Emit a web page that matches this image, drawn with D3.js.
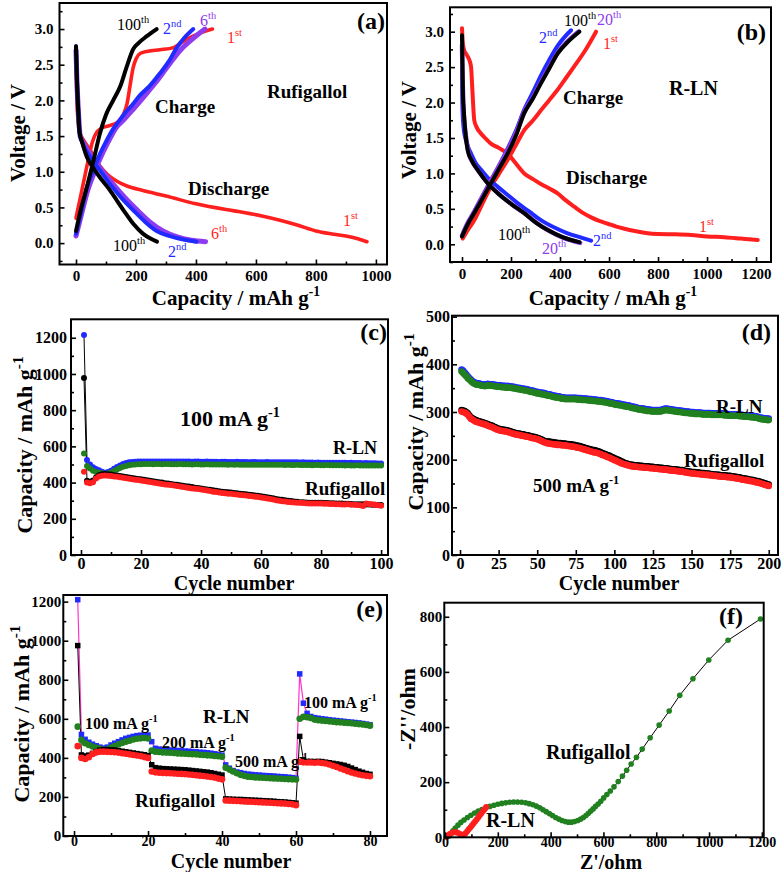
<!DOCTYPE html>
<html>
<head>
<meta charset="utf-8">
<script src="https://cdn.jsdelivr.net/npm/d3@7"></script>
<style>
  body { margin: 0; background: #fff; }
  svg text { font-family: "Liberation Serif", "Times New Roman", serif; }
</style>
</head>
<body>
<div id="chart"></div>
<script>
/* ---------- DATA ---------- */
// (a) Rufigallol voltage profiles  [capacity mAh/g, voltage V]
const aRedDis = [[0,2.45],[3,2.0],[7,1.7],[12,1.55],[20,1.48],[35,1.38],[55,1.25],[80,1.08],[105,0.96],[135,0.87],[170,0.8],[220,0.74],[300,0.66],[400,0.55],[500,0.47],[560,0.43],[620,0.38],[680,0.32],[740,0.25],[800,0.17],[850,0.13],[900,0.1],[940,0.06],[970,0.02]];
const aRedCh = [[0,0.35],[10,0.55],[25,0.85],[40,1.15],[55,1.42],[70,1.56],[90,1.62],[115,1.65],[140,1.7],[158,1.8],[170,1.95],[180,2.2],[190,2.45],[200,2.58],[215,2.66],[240,2.69],[280,2.71],[325,2.74],[355,2.82],[390,2.9],[425,2.96],[455,3.0]];
const aBlueDis = [[0,2.76],[3,2.3],[7,1.9],[12,1.55],[20,1.42],[47,1.21],[80,1.02],[113,0.83],[150,0.64],[191,0.46],[230,0.3],[269,0.17],[310,0.1],[358,0.05],[402,0.02]];
const aBlueCh = [[0,0.13],[15,0.4],[36,0.78],[58,1.02],[80,1.25],[100,1.42],[124,1.6],[145,1.72],[169,1.85],[190,1.95],[213,2.07],[245,2.2],[280,2.38],[310,2.55],[336,2.74],[360,2.87],[391,3.0]];
const aPurpDis = [[0,2.7],[3,2.3],[8,1.85],[14,1.5],[25,1.4],[55,1.2],[90,1.0],[125,0.82],[165,0.63],[205,0.46],[245,0.3],[290,0.17],[335,0.09],[385,0.04],[432,0.02]];
const aPurpCh = [[0,0.1],[18,0.4],[40,0.75],[65,1.03],[91,1.28],[115,1.48],[136,1.63],[160,1.73],[185,1.85],[210,1.97],[240,2.12],[275,2.3],[310,2.5],[347,2.7],[380,2.83],[405,2.92],[430,3.0]];
const aBlackDis = [[0,2.76],[3,2.3],[7,1.9],[12,1.55],[20,1.42],[36,1.21],[55,1.07],[80,0.92],[110,0.76],[136,0.6],[165,0.42],[191,0.27],[224,0.13],[250,0.06],[270,0.02]];
const aBlackCh = [[0,0.17],[15,0.45],[36,0.78],[58,1.15],[80,1.54],[100,1.8],[124,2.0],[147,2.19],[169,2.47],[191,2.72],[210,2.81],[236,2.9],[269,3.0]];

// (b) R-LN voltage profiles
const bRedDis = [[0,3.05],[3,2.85],[8,2.75],[18,2.68],[30,2.6],[37,2.5],[42,2.2],[50,1.75],[60,1.65],[78,1.56],[100,1.48],[118,1.42],[150,1.36],[186,1.28],[220,1.14],[254,1.0],[290,0.92],[322,0.85],[360,0.78],[390,0.72],[420,0.63],[458,0.53],[490,0.45],[527,0.38],[560,0.33],[595,0.29],[630,0.25],[663,0.22],[700,0.19],[750,0.16],[800,0.145],[870,0.14],[935,0.13],[1000,0.11],[1071,0.1],[1140,0.08],[1207,0.06]];
const bRedCh = [[3,0.08],[20,0.18],[50,0.34],[80,0.55],[118,0.81],[150,0.99],[186,1.19],[220,1.4],[254,1.61],[290,1.75],[322,1.89],[355,2.03],[390,2.18],[425,2.35],[458,2.51],[500,2.72],[547,3.0]];
const bBlueDis = [[0,2.5],[1,2.1],[2,1.9],[8,1.6],[16,1.47],[25,1.37],[37,1.28],[55,1.15],[78,1.05],[110,0.92],[146,0.81],[185,0.7],[227,0.58],[275,0.46],[322,0.34],[375,0.24],[431,0.155],[480,0.1],[527,0.05]];
const bBlueCh = [[0,0.12],[20,0.27],[50,0.46],[84,0.68],[118,0.9],[150,1.1],[186,1.35],[220,1.6],[254,1.9],[290,2.15],[322,2.38],[356,2.6],[390,2.8],[420,2.93],[445,3.02]];
const bPurpDis = [[0,2.8],[2,2.4],[5,2.0],[9,1.75],[15,1.55],[27,1.3],[45,1.15],[70,1.02],[105,0.87],[150,0.71],[205,0.56],[258,0.43],[305,0.3],[355,0.19],[415,0.09],[482,0.02]];
const bPurpCh = [[0,0.12],[20,0.28],[50,0.46],[84,0.68],[118,0.9],[150,1.1],[186,1.33],[220,1.57],[254,1.87],[290,2.08],[322,2.29],[356,2.5],[390,2.7],[430,2.86],[475,3.0]];
const bBlackDis = [[0,2.95],[2,2.5],[4,2.1],[7,1.9],[12,1.65],[23,1.33],[40,1.18],[64,1.05],[100,0.88],[146,0.72],[200,0.57],[254,0.44],[300,0.31],[350,0.2],[410,0.1],[479,0.03]];
const bBlackCh = [[0,0.11],[20,0.26],[50,0.44],[84,0.65],[118,0.86],[150,1.06],[186,1.28],[220,1.53],[254,1.85],[290,2.06],[322,2.27],[356,2.48],[390,2.69],[430,2.85],[479,3.0]];

// (c) cycling at 100 mA/g, cycles 1..100
const cRlnDis = [1215,525,500,485,475,468,460,455,458,466, 476,486,495,502,508,512,514,515,516,516, 516,517,517,516,517,517,516,517,517,517, 516,516,517,516,516,516,515,516,516,515, 515,516,515,515,515,514,515,515,514,514, 514,515,514,514,514,513,514,514,513,513, 513,514,513,513,512,513,513,512,512,512, 512,512,511,512,511,511,511,510,511,510, 510,510,510,509,510,509,509,509,508,509, 508,508,508,507,508,507,507,507,506,506];
const cRlnCh = [560,492,478,465,458,455,452,448,450,456, 464,472,480,487,492,496,498,500,501,501, 502,502,502,501,502,502,501,502,502,501, 501,501,502,501,501,501,500,501,501,500, 500,501,500,500,500,500,500,500,499,500, 499,500,499,499,499,499,499,499,498,499, 498,499,498,498,498,498,498,497,498,497, 497,498,497,497,497,497,496,497,497,496, 496,497,496,496,496,496,496,495,496,495, 495,496,495,495,495,495,494,495,494,494];
const cRufDis = [978,410,405,412,428,440,446,447,446,444, 441,439,436,434,431,428,425,423,420,418, 415,413,410,407,405,402,400,397,395,392, 390,388,385,382,380,378,375,372,370,368, 365,362,360,357,355,352,350,348,346,345, 343,341,339,337,335,333,331,329,327,325, 322,319,316,313,310,307,305,302,300,298, 296,294,292,291,290,289,289,288,288,288, 287,287,286,286,285,284,284,283,283,282, 281,281,280,280,279,279,278,277,276,276];
const cRufCh = [460,400,396,402,422,434,438,439,438,436, 434,432,429,427,424,421,419,416,414,412, 409,406,403,400,398,395,392,390,388,386, 384,381,379,376,373,370,368,366,364,362, 359,356,353,350,348,345,343,341,339,338, 336,334,332,330,328,326,324,322,320,318, 315,312,309,306,303,300,297,295,293,291, 290,289,288,287,286,285,285,284,284,284, 283,283,282,282,281,280,279,279,280,278, 277,276,275,270,285,282,280,278,275,272];

// (d) cycling at 500 mA/g, cycles 1..200
const dRlnDis = [389,387,383,379,375,371,368,365,363,361, 360,360,359,358,358,357,358,359,358,358, 358,357,357,356,356,356,355,355,355,354, 355,354,354,353,353,352,351,351,350,349, 349,348,348,347,346,345,345,344,343,342, 342,341,340,340,339,338,337,337,336,335, 334,334,333,333,332,331,331,330,330,330, 330,330,330,330,330,329,329,329,328,328, 328,328,327,327,327,326,326,326,325,325, 325,324,324,323,323,322,321,321,320,319, 318,318,317,317,316,315,315,314,314,313, 312,311,311,310,309,308,308,307,307,306, 305,305,305,304,304,304,304,304,304,304, 305,306,307,307,306,306,305,305,304,304, 303,303,303,302,302,301,301,301,300,300, 300,299,299,299,299,299,298,298,298,298, 298,298,297,297,297,297,297,297,297,297, 296,296,296,295,295,295,295,295,295,295, 294,294,294,293,293,293,293,292,292,292, 291,291,290,289,288,288,287,287,286,286];
const dRlnCh = [385,382,378,375,371,368,365,362,360,358, 357,357,356,355,355,354,355,356,355,355, 355,354,354,353,353,353,352,352,352,351, 352,351,351,350,350,349,348,348,347,346, 346,345,345,344,343,342,342,341,340,339, 339,338,337,337,336,335,334,334,333,332, 331,331,330,330,329,328,328,327,327,327, 327,327,327,327,327,326,326,326,325,325, 325,325,324,324,324,323,323,323,322,322, 322,321,321,320,320,319,318,318,317,316, 315,315,314,314,313,312,312,311,311,310, 309,308,308,307,306,305,305,304,304,303, 302,302,302,301,301,301,301,301,301,301, 302,303,304,304,303,303,302,302,301,301, 300,300,300,299,299,298,298,298,297,297, 297,296,296,296,296,296,295,295,295,295, 295,295,294,294,294,294,294,294,294,294, 293,293,293,292,292,292,292,292,292,292, 291,291,291,290,290,290,290,289,289,289, 288,288,287,286,285,285,284,284,283,283];
const dRufDis = [304,303,302,300,297,293,289,287,285,283, 282,281,280,279,278,277,276,274,273,272, 271,269,268,266,265,264,263,263,262,262, 261,260,259,258,257,256,255,255,254,253, 253,252,251,251,250,249,248,248,247,246, 245,243,242,240,239,238,238,238,237,237, 236,236,235,235,235,234,234,234,233,233, 232,232,231,231,230,229,229,228,227,226, 225,224,223,222,221,220,220,219,218,217, 216,214,213,212,210,209,208,206,205,203, 202,200,199,197,196,194,193,192,191,190, 189,189,188,188,188,187,187,187,186,186, 186,186,185,185,185,184,184,184,183,183, 183,182,182,182,181,181,180,180,180,179, 179,178,178,178,177,176,176,175,175,174, 174,174,173,173,173,172,172,172,171,171, 171,170,170,169,169,169,168,168,167,167, 167,167,166,166,166,165,165,164,164,163, 163,162,161,161,160,160,159,158,158,157, 156,155,155,154,153,152,151,150,149,148];
const dRufCh = [301,300,299,297,294,290,286,284,282,280, 279,278,277,276,275,274,273,271,270,269, 268,266,265,263,262,261,260,260,259,259, 258,257,256,255,254,253,252,252,251,250, 250,249,248,248,247,246,245,245,244,243, 242,240,239,237,236,235,234,234,233,233, 232,232,231,231,231,230,230,230,229,229, 228,228,227,227,226,225,225,224,223,222, 221,220,219,218,217,216,215,215,214,213, 212,210,209,208,206,205,204,202,201,199, 198,196,195,193,192,191,190,189,188,187, 186,186,185,185,185,184,184,184,183,183, 183,183,182,182,182,181,181,181,180,180, 180,179,179,179,178,178,177,177,177,176, 176,175,175,175,174,173,173,172,172,171, 171,171,170,170,170,169,169,169,168,168, 168,167,167,166,166,166,165,165,164,164, 164,164,163,163,163,162,162,161,161,160, 160,159,158,158,157,157,156,155,155,154, 153,152,152,151,150,149,148,147,146,145];

// (e) rate test, cycles 1..80
const eRlnDis = [1210,520,495,480,470,462,455,450,455,466, 475,483,492,500,505,510,514,516,517,517, 483,449,445,443,442,440,439,438,436,435, 434,432,431,429,428,426,424,421,418,414, 364,347,335,328,324,320,317,315,313,312, 310,309,308,307,305,304,303,301,299,296, 830,680,628,612,606,603,600,598,595,593, 591,589,587,585,583,581,579,576,573,570];
const eRlnCh = [560,492,475,466,458,452,446,441,443,453, 461,469,476,483,488,494,498,500,502,499, 437,432,430,428,427,426,425,423,422,421, 420,419,418,416,415,413,412,410,408,406, 350,340,330,321,313,308,304,302,300,299, 298,297,296,295,294,293,292,291,290,289, 600,610,608,604,596,593,591,589,587,585, 583,582,580,579,577,575,573,571,568,565];
const eRufDis = [975,415,410,414,423,432,440,442,442,441, 440,437,434,431,428,425,422,419,416,412, 365,350,347,345,344,343,342,341,340,339, 337,335,333,331,329,327,324,320,316,312, 190,189,188,187,187,186,185,184,183,182, 181,180,179,178,176,175,174,172,170,168, 510,390,382,382,381,382,381,378,375,372, 369,366,362,356,348,340,332,326,320,316];
const eRufCh = [460,400,394,403,420,428,432,432,431,430, 429,427,424,421,418,415,412,409,404,400, 330,326,324,323,322,321,320,319,318,317, 315,313,311,309,307,305,302,299,294,290, 182,181,180,179,178,177,176,175,174,173, 172,171,170,169,168,167,166,164,162,158, 380,377,376,376,375,376,374,371,366,360, 353,346,339,332,325,320,315,311,308,306];

// (f) Nyquist plots [Z' ohm, -Z'' ohm]
const fRuf = [[16,5],[22,14],[30,24],[39,34],[49,44],[60,54],[72,63],[85,72],[98,80],[112,88],[126,95],[140,101],[155,107],[170,112],[185,116],[200,120],[215,123],[230,125],[245,127],[260,128],[275,128],[290,127],[305,125],[319,122],[333,118],[346,113],[359,107],[371,100],[383,93],[395,86],[407,79],[419,72],[431,66],[443,61],[455,57],[467,55],[479,55],[491,57],[503,61],[514,66],[524,72],[534,79],[543,87],[552,95],[561,103],[570,112],[580,121],[590,131],[601,143],[613,155],[626,168],[640,183],[656,202],[672,222],[688,243],[705,266],[725,290],[747,320],[777,361],[811,407],[849,458],[889,515],[939,575],[999,643],[1072,715],[1195,792]];
const fRln = [[6,1],[12,7],[18,12],[25,16],[32,18],[39,18],[46,17],[53,14],[60,10],[66,8],[72,10],[78,15],[84,22],[90,29],[96,36],[102,43],[108,50],[114,57],[120,65],[126,72],[132,80],[138,87],[144,95],[150,102],[156,110]];

// tick values
const vTicks = [0, 0.5, 1.0, 1.5, 2.0, 2.5, 3.0];
const vMinor = [-0.25, 0.25, 0.75, 1.25, 1.75, 2.25, 2.75, 3.25];
const aCapTicks = [0, 200, 400, 600, 800, 1000];
const bCapTicks = [0, 200, 400, 600, 800, 1000, 1200];
const capMinor = [100, 300, 500, 700, 900, 1100];
const cycTicks100 = [0, 20, 40, 60, 80, 100];
const cycMinor100 = [10, 30, 50, 70, 90];
const cycTicks200 = [0, 25, 50, 75, 100, 125, 150, 175, 200];
const cycTicks80 = [0, 20, 40, 60, 80];
const cycMinor80 = [10, 30, 50, 70];
const capTicks1200 = [0, 200, 400, 600, 800, 1000, 1200];
const capMinor1200 = [100, 300, 500, 700, 900, 1100];
const capTicks500 = [0, 100, 200, 300, 400, 500];
const capMinor500 = [50, 150, 250, 350, 450];
const zTicks = [0, 200, 400, 600, 800, 1000, 1200];
const zMinor = [100, 300, 500, 700, 900, 1100];
const zyTicks = [0, 200, 400, 600, 800];
const zyMinor = [100, 300, 500, 700];

/* ---------- SETUP ---------- */
const width = 782, height = 872;
const RED = "#ff1f1f", BLUE = "#1f2bff", PURP = "#8e3cf0", GREEN = "#21801f", BLACK = "#000";

const svg = d3.select("#chart").append("svg")
  .attr("width", width).attr("height", height)
  .style("background", "#fff");

function panel(box, xd, yd) {
  const x = d3.scaleLinear().domain(xd).range([box.l, box.r]);
  const y = d3.scaleLinear().domain(yd).range([box.b, box.t]);
  const g = svg.append("g");
  return { g, x, y, box };
}

function styleAxis(sel, fs) {
  sel.attr("font-family", "Liberation Serif, Times New Roman, serif")
    .attr("font-size", fs).attr("font-weight", "bold");
  sel.select(".domain").remove();
  sel.selectAll("line").attr("stroke", "#000").attr("stroke-width", 1.6);
  sel.selectAll("text").attr("fill", "#000");
}

function axes(p, o) {
  const { g, x, y, box } = p;
  g.append("g").attr("transform", `translate(0,${box.b})`)
    .call(d3.axisBottom(x).tickValues(o.xt).tickSize(-5).tickPadding(o.xp).tickFormat(d3.format("d")))
    .call(s => styleAxis(s, o.xfs || o.fs));
  if (o.xm) g.append("g").attr("transform", `translate(0,${box.b})`)
    .call(d3.axisBottom(x).tickValues(o.xm).tickSize(-3).tickFormat(""))
    .call(s => styleAxis(s, o.fs));
  g.append("g").attr("transform", `translate(${box.l},0)`)
    .call(d3.axisLeft(y).tickValues(o.yt).tickSize(-5).tickPadding(o.yp).tickFormat(o.yf || d3.format("d")))
    .call(s => styleAxis(s, o.fs));
  if (o.ym) g.append("g").attr("transform", `translate(${box.l},0)`)
    .call(d3.axisLeft(y).tickValues(o.ym).tickSize(-3).tickFormat(""))
    .call(s => styleAxis(s, o.fs));
  g.append("rect")
    .attr("x", box.l).attr("y", box.t)
    .attr("width", box.r - box.l).attr("height", box.b - box.t)
    .attr("fill", "none").attr("stroke", "#000").attr("stroke-width", 2);
}

// text with optional superscript
function note(x, y, main, sup, size, fill, weight, anchor) {
  const t = svg.append("text")
    .attr("x", x).attr("y", y)
    .attr("font-size", size)
    .attr("font-weight", weight || "bold")
    .attr("fill", fill || "#000")
    .attr("text-anchor", anchor || "start")
    .text(main);
  if (sup) t.append("tspan").attr("dy", -size * 0.42).attr("font-size", size * 0.65).text(sup);
  return t;
}

function ytitle(cx, cy, main, sup, size) {
  const t = svg.append("text")
    .attr("transform", `translate(${cx},${cy}) rotate(-90)`)
    .attr("text-anchor", "middle")
    .attr("font-size", size).attr("font-weight", "bold")
    .text(main);
  if (sup) t.append("tspan").attr("dy", -size * 0.42).attr("font-size", size * 0.7).text(sup);
}

function curve(p, data, color, w) {
  const line = d3.line().x(d => p.x(d[0])).y(d => p.y(d[1])).curve(d3.curveMonotoneX);
  p.g.append("path").attr("d", line(data))
    .attr("fill", "none").attr("stroke", color)
    .attr("stroke-width", w || 4).attr("stroke-linecap", "round").attr("stroke-linejoin", "round");
}

function seriesLine(p, vals, color, w) {
  const line = d3.line().x((d, i) => p.x(i + 1)).y(d => p.y(d));
  p.g.append("path").attr("d", line(vals))
    .attr("fill", "none").attr("stroke", color).attr("stroke-width", w || 1);
}

function dots(p, vals, color, r) {
  p.g.append("g").selectAll("circle").data(vals).join("circle")
    .attr("cx", (d, i) => p.x(i + 1)).attr("cy", d => p.y(d))
    .attr("r", r).attr("fill", color);
}

function squares(p, vals, color, s) {
  p.g.append("g").selectAll("rect").data(vals).join("rect")
    .attr("x", (d, i) => p.x(i + 1) - s / 2).attr("y", d => p.y(d) - s / 2)
    .attr("width", s).attr("height", s).attr("fill", color);
}

/* ---------- (a) ---------- */
const pa = panel({ l: 59.5, r: 387, t: 3, b: 264.5 }, [-55, 1037], [-0.3, 3.365]);
curve(pa, aRedDis, RED, 3.6);
curve(pa, aRedCh, RED, 3.6);
curve(pa, aPurpDis, PURP, 5);
curve(pa, aPurpCh, PURP, 5);
curve(pa, aBlueDis, BLUE, 4);
curve(pa, aBlueCh, BLUE, 4);
curve(pa, aBlackDis, BLACK, 4);
curve(pa, aBlackCh, BLACK, 4);
axes(pa, { xt: aCapTicks, xm: capMinor.slice(0, 5), yt: vTicks, ym: vMinor, xp: 6, yp: 6, fs: 15, yf: d3.format(".1f") });
note(117, 30, "100", "th", 16, BLACK, "normal");
note(163, 34, "2", "nd", 16, BLUE, "normal");
note(200, 26, "6", "th", 16, PURP, "normal");
note(227, 43, "1", "st", 16, RED, "normal");
note(155, 113, "Charge", null, 19);
note(267, 98, "Rufigallol", null, 19);
note(188, 195, "Discharge", null, 19);
note(343, 226, "1", "st", 16, RED, "normal");
note(211, 239, "6", "th", 16, RED, "normal");
note(168, 257, "2", "nd", 16, BLUE, "normal");
note(113, 251, "100", "th", 16, BLACK, "normal");
note(385, 29, "(a)", null, 24, BLACK, "bold", "end");
note(236, 305, "Capacity / mAh g", "-1", 21, BLACK, "bold", "middle");
ytitle(24.5, 133, "Voltage / V", null, 21);

/* ---------- (b) ---------- */
const pb = panel({ l: 450, r: 771, t: 7.3, b: 262 }, [-49, 1261], [-0.25, 3.344]);
curve(pb, bRedDis, RED, 4);
curve(pb, bRedCh, RED, 4);
curve(pb, bBlueDis, BLUE, 4);
curve(pb, bBlueCh, BLUE, 4);
curve(pb, bPurpDis, PURP, 4.5);
curve(pb, bPurpCh, PURP, 4.5);
curve(pb, bBlackDis, BLACK, 4);
curve(pb, bBlackCh, BLACK, 4);
axes(pb, { xt: bCapTicks, xm: capMinor, yt: vTicks, ym: vMinor, xp: 6, yp: 6, fs: 15, yf: d3.format(".1f") });
note(564, 26, "100", "th", 16, BLACK, "normal");
note(597, 25, "20", "th", 16, PURP, "normal");
note(539, 43, "2", "nd", 16, BLUE, "normal");
note(603, 49, "1", "st", 16, RED, "normal");
note(563, 104, "Charge", null, 19);
note(669, 95, "R-LN", null, 20);
note(566, 184, "Discharge", null, 19);
note(699, 232, "1", "st", 16, RED, "normal");
note(593, 246, "2", "nd", 16, BLUE, "normal");
note(542, 254, "20", "th", 16, PURP, "normal");
note(498, 240, "100", "th", 16, BLACK, "normal");
note(766, 40, "(b)", null, 24, BLACK, "bold", "end");
note(613, 305, "Capacity / mAh g", "-1", 21, BLACK, "bold", "middle");
ytitle(416, 130, "Voltage / V", null, 21);

/* ---------- (c) ---------- */
const pc = panel({ l: 71, r: 388, t: 319.3, b: 555 }, [-3.33, 102.3], [0, 1302]);
seriesLine(pc, cRlnDis, BLACK, 1);
seriesLine(pc, cRufDis, BLACK, 1);
dots(pc, cRlnDis, BLUE, 3);
dots(pc, cRlnCh, GREEN, 3);
dots(pc, cRufDis, BLACK, 3);
dots(pc, cRufCh, RED, 3);
axes(pc, { xt: cycTicks100, xm: cycMinor100, yt: capTicks1200, ym: capMinor1200, xp: 3, yp: 4, fs: 16 });
note(180, 426, "100 mA g", "-1", 22);
note(333, 454, "R-LN", null, 18);
note(305, 495, "Rufigallol", null, 19);
note(387, 340, "(c)", null, 24, BLACK, "bold", "end");
note(234, 590, "Cycle number", null, 20, BLACK, "bold", "middle");
ytitle(32, 445, "Capacity / mAh g", "-1", 22);

/* ---------- (d) ---------- */
const pd = panel({ l: 452, r: 778, t: 315.7, b: 555 }, [-5.2, 206], [0, 502]);
dots(pd, dRlnDis, BLUE, 3.3);
dots(pd, dRlnCh, GREEN, 3.3);
dots(pd, dRufDis, BLACK, 3.3);
dots(pd, dRufCh, RED, 3.3);
axes(pd, { xt: cycTicks200, yt: capTicks500, ym: capMinor500, xp: 3, yp: 2, fs: 16 });
note(716, 413, "R-LN", null, 19);
note(684, 467, "Rufigallol", null, 19);
note(533, 492, "500 mA g", "-1", 19);
note(771, 340, "(d)", null, 24, BLACK, "bold", "end");
note(619, 590, "Cycle number", null, 20, BLACK, "bold", "middle");
ytitle(423, 422, "Capacity / mAh g", "-1", 22);

/* ---------- (e) ---------- */
const pe = panel({ l: 63.3, r: 387, t: 595, b: 836 }, [-2.9, 84.6], [0, 1234]);
seriesLine(pe, eRlnDis, "#ff33cc", 1.2);
seriesLine(pe, eRufDis, BLACK, 1);
squares(pe, eRlnDis, BLUE, 5.5);
dots(pe, eRlnCh, GREEN, 3.3);
squares(pe, eRufDis, BLACK, 5.5);
dots(pe, eRufCh, RED, 3.3);
axes(pe, { xt: cycTicks80, xm: cycMinor80, yt: capTicks1200, ym: capMinor1200, xp: 0, yp: 2, fs: 15, xfs: 14 });
note(85, 729, "100 mA g", "-1", 16);
note(203, 723, "R-LN", null, 19);
note(162, 748, "200 mA g", "-1", 16);
note(235, 767, "500 mA g", "-1", 16);
note(304, 708, "100 mA g", "-1", 16);
note(135, 807, "Rufigallol", null, 19);
note(383, 617, "(e)", null, 24, BLACK, "bold", "end");
note(231, 868, "Cycle number", null, 20, BLACK, "bold", "middle");
ytitle(29, 714, "Capacity / mAh g", "-1", 22);

/* ---------- (f) ---------- */
const pf = panel({ l: 444.3, r: 763.7, t: 602.7, b: 837.3 }, [-2.7, 1207], [0, 851]);
pf.g.append("path")
  .attr("d", d3.line().x(d => pf.x(d[0])).y(d => pf.y(d[1]))(fRuf))
  .attr("fill", "none").attr("stroke", "#000").attr("stroke-width", 1);
pf.g.append("g").selectAll("circle").data(fRuf).join("circle")
  .attr("cx", d => pf.x(d[0])).attr("cy", d => pf.y(d[1])).attr("r", 2.8).attr("fill", GREEN);
pf.g.append("g").selectAll("circle").data(fRln).join("circle")
  .attr("cx", d => pf.x(d[0])).attr("cy", d => pf.y(d[1])).attr("r", 3).attr("fill", RED);
axes(pf, { xt: zTicks, xm: zMinor, yt: zyTicks, ym: zyMinor, xp: 0, yp: 2, fs: 15, xfs: 14 });
note(546, 759, "Rufigallol", null, 20);
note(486, 827, "R-LN", null, 20);
note(743, 624, "(f)", null, 24, BLACK, "bold", "end");
note(611, 869, "Z'/ohm", null, 20, BLACK, "bold", "middle");
ytitle(415, 709, "-Z''/ohm", null, 22);
</script>
</body>
</html>
